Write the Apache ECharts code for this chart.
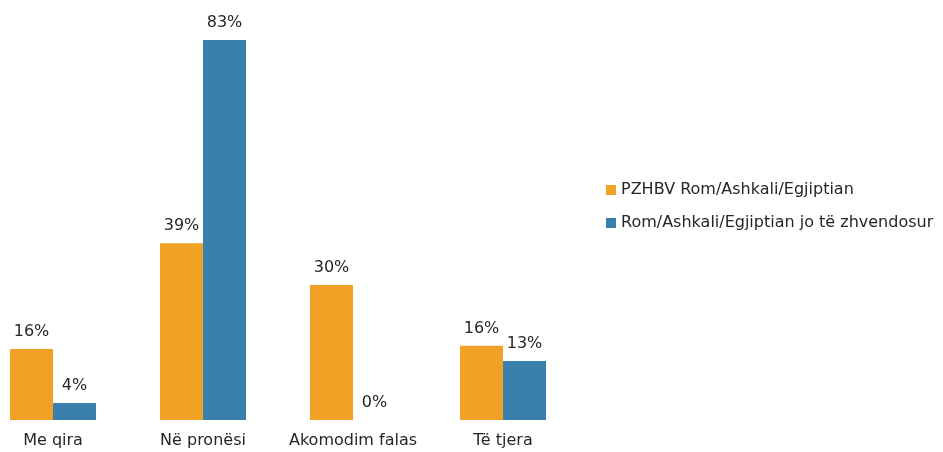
<!DOCTYPE html>
<html>
<head>
<meta charset="utf-8">
<script src="https://cdn.jsdelivr.net/npm/echarts@6/dist/echarts.min.js"></script>
<style>
  html, body { margin: 0; padding: 0; background: #fff; }
  #chart { width: 943px; height: 452px; }
</style>
</head>
<body>
<div id="chart"></div>
<script>
var categories = ['Me qira', 'Në pronësi', 'Akomodim falas', 'Të tjera'];
var seriesNames = ['PZHBV Rom/Ashkali/Egjiptian', 'Rom/Ashkali/Egjiptian jo të zhvendosur'];
// values; labels show them rounded
var displaced = [15.5, 38.6, 29.5, 16.2];
var notDisplaced = [3.7, 83, 0, 12.9];

var font = '"DejaVu Sans", sans-serif';
var labelOpt = {
    show: true,
    position: 'top',
    distance: 9,
    color: '#262626',
    fontSize: 16,
    fontFamily: font,
    formatter: function (p) { return Math.round(p.value) + '%'; }
};

var myChart = echarts.init(document.getElementById('chart'));
myChart.setOption({
    animation: false,
    color: ['#F2A127', '#3A80AD'],
    legend: {
        orient: 'vertical',
        left: 601,
        top: 177,
        itemGap: 17,
        itemWidth: 10,
        itemHeight: 10,
        icon: 'rect',
        textStyle: { color: '#262626', fontSize: 16, fontFamily: font },
        data: seriesNames
    },
    grid: { left: -22, width: 600, top: 40, bottom: 32, outerBoundsMode: 'none', containLabel: false },
    xAxis: {
        type: 'category',
        data: categories,
        axisLine: { show: false },
        axisTick: { show: false },
        axisLabel: { color: '#262626', fontSize: 16, fontFamily: font, margin: 13, interval: 0 }
    },
    yAxis: {
        type: 'value',
        min: 0,
        max: 83,
        show: false,
        splitLine: { show: false }
    },
    series: [{
        name: seriesNames[0],
        type: 'bar',
        data: displaced,
        barWidth: 43,
        barGap: '0%',
        label: labelOpt
    }, {
        name: seriesNames[1],
        type: 'bar',
        data: notDisplaced,
        barWidth: 43,
        barGap: '0%',
        label: labelOpt
    }]
});
</script>
</body>
</html>
